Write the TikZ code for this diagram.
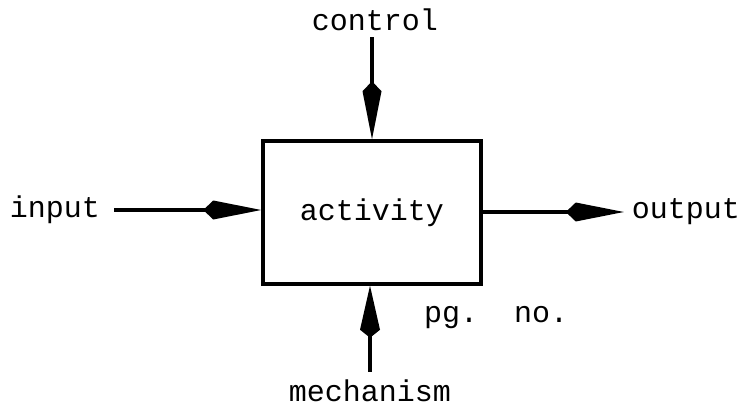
\documentclass[tikz,border=0pt]{standalone}
\usepackage{fontspec}
\setmonofont{Liberation Mono}
\usetikzlibrary{arrows.meta}
\tikzset{
  lbl/.style={font=\ttfamily\fontsize{30}{30}\selectfont, inner sep=0pt},
  flow/.style={line width=3.5pt},
  kt/.style={-{Kite[length=58pt,width=19pt,inset=10pt]}},
  actbox/.style={draw, line width=3.5pt, minimum width=218pt, minimum height=143pt, inner sep=0pt, font=\ttfamily\fontsize{30}{30}\selectfont}
}
\begin{document}
\begin{tikzpicture}[x=1pt,y=-1pt]
\useasboundingbox (0,0) rectangle (747,409);
\node[actbox] (act) at (372,212.5) {activity};
\node[lbl] (control) at (375,20) {control};
\node[lbl] (input) at (55,210) {input};
\node[lbl] (output) at (686,212) {output};
\node[lbl] (mech) at (370,391) {mechanism};
\node[lbl, anchor=west] (pg) at (424,318) {pg.\ \ no.};
\draw[flow,kt,shorten <=6pt] (control.south -| act.north) -- (act.north);
\draw[flow,kt,shorten <=14pt] (input.east) -- (input.east -| act.west);
\draw[flow,kt,shorten >=8pt] (output.west -| act.east) -- (output.west);
\draw[flow,-{Kite[length=52pt,width=20pt,inset=8pt]},shorten <=8pt] (mech.north) -- (mech.north |- act.south);
\end{tikzpicture}
\end{document}
